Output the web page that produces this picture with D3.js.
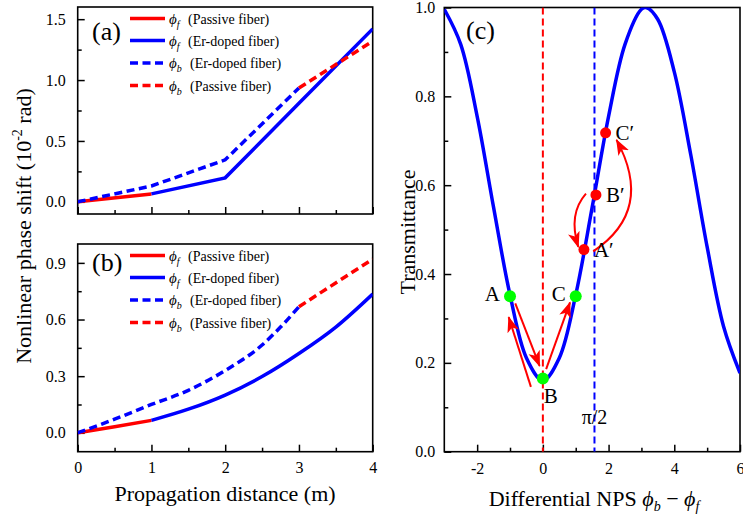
<!DOCTYPE html>
<html>
<head>
<meta charset="utf-8">
<script src="https://cdn.jsdelivr.net/npm/d3@7"></script>
<style>
  body { margin: 0; background: #fff; }
  text { font-family: "Liberation Serif", "Times New Roman", serif; fill: #000; }
</style>
</head>
<body>
<script>
// (a) phase shift per metre of fibre, 10^-2 rad
var distA = [0, 1, 2, 3, 4];
var phiFa = [0, 0.065, 0.197, 0.81, 1.42];
var phiBa = [0, 0.13, 0.345, 0.935, 1.32];

// (b) distributed case
var distFPass = [0, 0.5, 1];
var phiFPass = [0, 0.032, 0.066];
var distFEr = [1, 1.5, 2, 2.5, 3, 3.5, 4];
var phiFEr = [0.066, 0.125, 0.2, 0.298, 0.42, 0.56, 0.735];
var distBEr = [0, 0.5, 1, 1.5, 2, 2.5, 2.75, 3];
var phiBEr = [0, 0.072, 0.15, 0.225, 0.33, 0.465, 0.56, 0.668];
var distBPass = [3, 4];
var phiBPass = [0.668, 0.92];

var legSub = ['f', 'f', 'b', 'b'];
var legText = ['(Passive fiber)', '(Er-doped fiber)', '(Er-doped fiber)', '(Passive fiber)'];

// (c) transmittance vs differential NPS
var nps = [-3, -2.5, -2, -1.5, -1, -0.5, 0, 0.5, 1, 1.5, 2, 2.5, 3, 3.14, 3.5, 4, 4.5, 5, 5.5, 6];
var trans = [0.996, 0.917, 0.755, 0.55, 0.353, 0.211, 0.16, 0.211, 0.353, 0.55, 0.755, 0.917, 0.996, 1.0,
             0.973, 0.855, 0.669, 0.461, 0.282, 0.177];
var refLines = [0, Math.PI / 2];
var greenNames = ['A', 'B', 'C'];
var greenX = [-1, 0, 1];
var greenY = [0.35, 0.165, 0.35];
var redNames = ['A\u2032', 'B\u2032', 'C\u2032'];
var redX = [1.25, 1.615, 1.909];
var redY = [0.455, 0.578, 0.718];
// arrows: start, through, end (data units)
var arrows = [
  [-0.84, 0.334, -0.47, 0.2635, -0.10, 0.193],
  [-0.364, 0.146, -0.702, 0.2245, -1.04, 0.303],
  [0.10, 0.186, 0.4635, 0.261, 0.827, 0.336],
  [1.312, 0.581, 0.979, 0.528, 1.079, 0.461],
  [1.533, 0.451, 2.645, 0.560, 2.242, 0.702]
];

var RED = '#ff0000', BLUE = '#0000ff', GREEN = '#00ff00';
var W = 743, H = 520;

var svg = d3.select('body').append('svg').attr('width', W).attr('height', H);
svg.append('rect').attr('width', W).attr('height', H).attr('fill', '#fff');

var defs = svg.append('defs');
defs.append('marker').attr('id', 'head').attr('markerUnits', 'userSpaceOnUse')
  .attr('markerWidth', 17).attr('markerHeight', 14).attr('viewBox', '0 -7 17 14')
  .attr('refX', 15).attr('refY', 0).attr('orient', 'auto')
  .append('path').attr('d', 'M0,-6L16,0L0,6L4,0Z').attr('fill', RED);

function zip(xs, ys) { return xs.map(function(v, i) { return [v, ys[i]]; }); }

function makePanel(box, xDom, yDom) {
  return {
    box: box,
    x: d3.scaleLinear().domain(xDom).range([box.l, box.r]),
    y: d3.scaleLinear().domain(yDom).range([box.b, box.t])
  };
}

function drawAxes(p, xMajor, xMinor, yMajor, yMinor, xFmt, yFmt, xPad, yPad) {
  var b = p.box;
  var gx = svg.append('g').attr('class', 'ax').attr('transform', 'translate(0,' + b.b + ')');
  gx.append('g').call(d3.axisBottom(p.x).tickValues(xMinor).tickSize(-4).tickFormat(''));
  gx.append('g').call(d3.axisBottom(p.x).tickValues(xMajor).tickSize(-7).tickPadding(xPad).tickFormat(xFmt));
  var gy = svg.append('g').attr('class', 'ax').attr('transform', 'translate(' + b.l + ',0)');
  gy.append('g').call(d3.axisLeft(p.y).tickValues(yMinor).tickSize(-4).tickFormat(''));
  gy.append('g').call(d3.axisLeft(p.y).tickValues(yMajor).tickSize(-7).tickPadding(yPad).tickFormat(yFmt));
  svg.selectAll('.ax .domain').remove();
  svg.selectAll('.ax line').attr('stroke', '#000').attr('stroke-width', 1.5);
  svg.selectAll('.ax text').attr('font-family', '"Liberation Serif", serif').attr('font-size', 16);
  svg.append('rect').attr('x', b.l).attr('y', b.t).attr('width', b.r - b.l).attr('height', b.b - b.t)
    .attr('fill', 'none').attr('stroke', '#000').attr('stroke-width', 1.6);
}

function clip(id, b) {
  defs.append('clipPath').attr('id', id).append('rect')
    .attr('x', b.l).attr('y', b.t).attr('width', b.r - b.l).attr('height', b.b - b.t);
  return svg.append('g').attr('clip-path', 'url(#' + id + ')');
}

function series(g, p, pts, color, dashed, curve) {
  var line = d3.line().x(function(d) { return p.x(d[0]); }).y(function(d) { return p.y(d[1]); })
    .curve(curve || d3.curveLinear);
  g.append('path').attr('d', line(pts)).attr('fill', 'none').attr('stroke', color)
    .attr('stroke-width', 3.5).attr('stroke-dasharray', dashed ? '8,4.5' : null);
}

function legend(top) {
  var colors = [RED, BLUE, BLUE, RED];
  var offs = [11.5, 33.5, 56, 78.5];
  legText.forEach(function(t, i) {
    var y = top + offs[i];
    svg.append('line').attr('x1', 130).attr('x2', 165).attr('y1', y).attr('y2', y)
      .attr('stroke', colors[i]).attr('stroke-width', 3.5).attr('stroke-dasharray', i > 1 ? '8,4.5' : null);
    var tx = svg.append('text').attr('x', 169).attr('y', y + 5).attr('font-size', 15);
    tx.append('tspan').attr('font-style', 'italic').text('\u03d5');
    tx.append('tspan').attr('font-style', 'italic').attr('font-size', 10).attr('dy', 4).text(legSub[i]);
    svg.append('text').attr('x', i > 1 ? 190 : 188).attr('y', y + 5).attr('font-size', 14).text(t);
  });
}

var fmt1 = d3.format('.1f');
var xMaj = [0, 1, 2, 3, 4], xMin = [0.5, 1.5, 2.5, 3.5];

// ---------- (a)
var pa = makePanel({l: 77.7, r: 372.7, t: 7, b: 214}, [0, 4], [-0.1, 1.6]);
drawAxes(pa, xMaj, xMin, [0, 0.5, 1, 1.5], [0.25, 0.75, 1.25], function() { return ''; }, fmt1, 10, 12);
var ga = clip('ca', pa.box);
var fa = zip(distA, phiFa), ba = zip(distA, phiBa);
series(ga, pa, fa.slice(0, 2), RED, false);
series(ga, pa, fa.slice(1), BLUE, false);
series(ga, pa, ba.slice(0, 4), BLUE, true);
series(ga, pa, ba.slice(3), RED, true);
legend(pa.box.t);
svg.append('text').attr('x', 92).attr('y', 40).attr('font-size', 26).text('(a)');

// ---------- (b)
var pb = makePanel({l: 77.7, r: 372.7, t: 244, b: 451.7}, [0, 4], [-0.1, 1.0]);
drawAxes(pb, xMaj, xMin, [0, 0.3, 0.6, 0.9], [0.15, 0.45, 0.75], d3.format('d'), fmt1, 10, 12);
var gb = clip('cb', pb.box);
series(gb, pb, zip(distFPass, phiFPass), RED, false, d3.curveMonotoneX);
series(gb, pb, zip(distFEr, phiFEr), BLUE, false, d3.curveMonotoneX);
series(gb, pb, zip(distBEr, phiBEr), BLUE, true, d3.curveMonotoneX);
series(gb, pb, zip(distBPass, phiBPass), RED, true, d3.curveMonotoneX);
legend(pb.box.t);
svg.append('text').attr('x', 92).attr('y', 271).attr('font-size', 26).text('(b)');

svg.append('text').attr('x', 225).attr('y', 501).attr('text-anchor', 'middle').attr('font-size', 22)
  .text('Propagation distance (m)');
var yt = svg.append('text').attr('transform', 'translate(31,226) rotate(-90)')
  .attr('text-anchor', 'middle').attr('font-size', 22);
yt.append('tspan').text('Nonlinear phase shift (10');
yt.append('tspan').attr('font-size', 14).attr('dy', -9).text('-2');
yt.append('tspan').attr('dy', 9).text(' rad)');

// ---------- (c)
var pc = makePanel({l: 444.3, r: 740, t: 7.5, b: 451.7}, [-3, 6], [0, 1]);
drawAxes(pc, [-2, 0, 2, 4, 6], [-1, 1, 3, 5], [0, 0.2, 0.4, 0.6, 0.8, 1.0], [0.1, 0.3, 0.5, 0.7, 0.9],
  function(d) { return d < 0 ? '-' + Math.abs(d) : String(d); }, fmt1, 11, 9);
var gc = clip('cc', pc.box);
gc.selectAll('line.ref').data(refLines).enter().append('line')
  .attr('x1', function(d) { return pc.x(d); }).attr('x2', function(d) { return pc.x(d); })
  .attr('y1', pc.y(1)).attr('y2', pc.y(0))
  .attr('stroke', function(d, i) { return i ? BLUE : RED; }).attr('stroke-width', 2)
  .attr('stroke-dasharray', '7,4');
series(gc, pc, zip(nps, trans), BLUE, false, d3.curveCatmullRom.alpha(0.5));

arrows.forEach(function(a) {
  var x0 = pc.x(a[0]), y0 = pc.y(a[1]), xm = pc.x(a[2]), ym = pc.y(a[3]), x1 = pc.x(a[4]), y1 = pc.y(a[5]);
  var cx = 2 * xm - (x0 + x1) / 2, cy = 2 * ym - (y0 + y1) / 2;
  svg.append('path').attr('d', 'M' + x0 + ',' + y0 + 'Q' + cx + ',' + cy + ' ' + x1 + ',' + y1)
    .attr('fill', 'none').attr('stroke', RED).attr('stroke-width', 2).attr('marker-end', 'url(#head)');
});

svg.selectAll('circle.g').data(greenNames).enter().append('circle')
  .attr('cx', function(d, i) { return pc.x(greenX[i]); }).attr('cy', function(d, i) { return pc.y(greenY[i]); })
  .attr('r', 6).attr('fill', GREEN);
svg.selectAll('circle.r').data(redNames).enter().append('circle')
  .attr('cx', function(d, i) { return pc.x(redX[i]); }).attr('cy', function(d, i) { return pc.y(redY[i]); })
  .attr('r', 5.5).attr('fill', RED);

var gOff = [[-10, 5, 'end'], [1, 25, 'start'], [-10, 5, 'end']];
greenNames.forEach(function(n, i) {
  svg.append('text').attr('x', pc.x(greenX[i]) + gOff[i][0]).attr('y', pc.y(greenY[i]) + gOff[i][1])
    .attr('text-anchor', gOff[i][2]).attr('font-size', 21).text(n);
});
redNames.forEach(function(n, i) {
  svg.append('text').attr('x', pc.x(redX[i]) + 10).attr('y', pc.y(redY[i]) + 7)
    .attr('font-size', 21).text(n);
});
svg.append('text').attr('x', pc.x(Math.PI / 2)).attr('y', 424).attr('text-anchor', 'middle')
  .attr('font-size', 20).text('\u03c0/2');
svg.append('text').attr('x', 466).attr('y', 39).attr('font-size', 26).text('(c)');

var xt = svg.append('text').attr('x', 594).attr('y', 506).attr('text-anchor', 'middle').attr('font-size', 22);
xt.append('tspan').text('Differential NPS ');
xt.append('tspan').attr('font-style', 'italic').text('\u03d5');
xt.append('tspan').attr('font-style', 'italic').attr('font-size', 14).attr('dy', 5).text('b');
xt.append('tspan').attr('dy', -5).text(' \u2212 ');
xt.append('tspan').attr('font-style', 'italic').text('\u03d5');
xt.append('tspan').attr('font-style', 'italic').attr('font-size', 14).attr('dy', 5).text('f');
svg.append('text').attr('transform', 'translate(415,232) rotate(-90)').attr('text-anchor', 'middle')
  .attr('font-size', 22).text('Transmittance');
</script>
</body>
</html>
